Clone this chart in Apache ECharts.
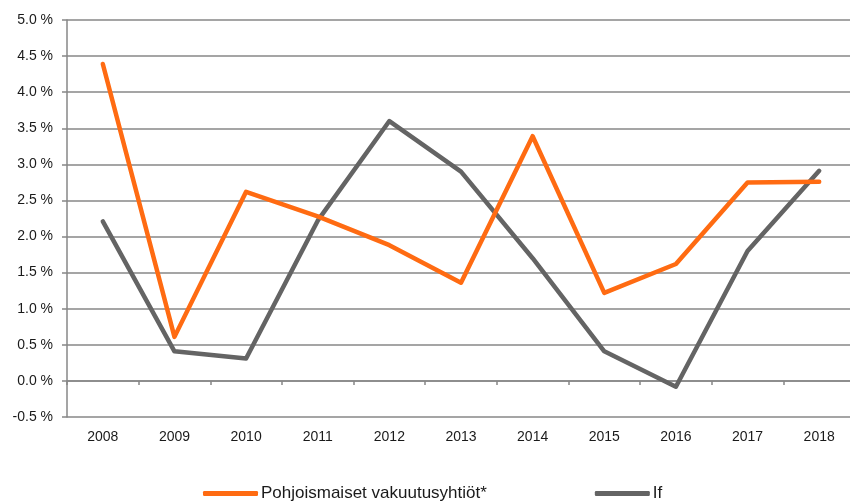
<!DOCTYPE html>
<html>
<head>
<meta charset="utf-8">
<script src="https://cdn.jsdelivr.net/npm/echarts@6/dist/echarts.min.js"></script>
<style>
html,body{margin:0;padding:0;background:#fff;}
#chart{width:850px;height:501px;}
</style>
</head>
<body>
<div id="chart"></div>
<script>
const years = ['2008','2009','2010','2011','2012','2013','2014','2015','2016','2017','2018'];
const nordicName = 'Pohjoismaiset vakuutusyhtiöt*';
const nordicValues = [4.39, 0.61, 2.62, 2.28, 1.88, 1.36, 3.39, 1.22, 1.62, 2.75, 2.76];
const ifName = 'If';
const ifValues = [2.21, 0.41, 0.31, 2.22, 3.60, 2.90, 1.70, 0.41, -0.08, 1.80, 2.91];
const yMin = -0.5, yMax = 5.0, yStep = 0.5;

const chart = echarts.init(document.getElementById('chart'), null, {renderer: 'canvas'});
const axisGray = '#878787';
const fam = '"Liberation Sans", Arial, sans-serif';
chart.setOption({
  animation: false,
  backgroundColor: '#ffffff',
  grid: {left: 67, top: 20, right: -5, bottom: 84, containLabel: false, outerBoundsMode: 'none'},
  legend: {
    left: 203, top: 485, padding: 0,
    icon: 'roundRect', itemWidth: 55, itemHeight: 5, itemGap: 108,
    textStyle: {fontFamily: fam, fontSize: 17, color: '#1a1a1a', padding: [0,0,0,-2]},
    data: [nordicName, ifName]
  },
  xAxis: [
    {
      type: 'category', data: years, boundaryGap: true,
      axisLine: {onZero: true, lineStyle: {color: axisGray, width: 1.5}},
      axisTick: {show: true, length: 4, lineStyle: {color: axisGray, width: 1.5}},
      axisLabel: {show: false},
      splitLine: {show: false}
    },
    {
      type: 'category', data: years, boundaryGap: true, position: 'bottom',
      axisLine: {show: false}, axisTick: {show: false},
      axisLabel: {show: true, margin: 13, color: '#1a1a1a', fontSize: 14, fontFamily: fam},
      splitLine: {show: false}
    }
  ],
  yAxis: {
    type: 'value', min: yMin, max: yMax, interval: yStep,
    axisLine: {show: true, lineStyle: {color: axisGray, width: 1.5}},
    axisTick: {show: true, length: 5, lineStyle: {color: axisGray, width: 1.5}},
    axisLabel: {margin: 14, color: '#1a1a1a', fontSize: 14, fontFamily: fam,
      formatter: v => v.toFixed(1) + ' %'},
    splitLine: {show: true, lineStyle: {color: axisGray, width: 1.5}}
  },
  series: [
    {
      name: nordicName, type: 'line', data: nordicValues, xAxisIndex: 0,
      symbol: 'none', color: '#FF6B12',
      lineStyle: {width: 4.5, color: '#FF6B12', cap: 'round', join: 'round'}, z: 3
    },
    {
      name: ifName, type: 'line', data: ifValues, xAxisIndex: 0,
      symbol: 'none', color: '#646464',
      lineStyle: {width: 4.5, color: '#646464', cap: 'round', join: 'round'}, z: 2
    }
  ]
});
</script>
</body>
</html>
